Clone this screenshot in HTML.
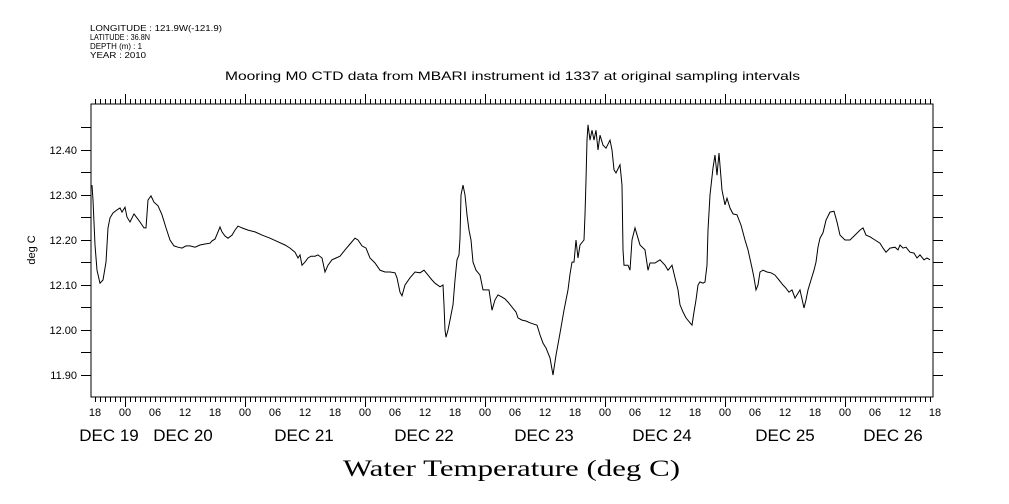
<!DOCTYPE html>
<html><head><meta charset="utf-8"><style>
body{margin:0;background:#fff;}
svg{display:block;font-family:"Liberation Sans",sans-serif;}
</style></head><body>
<svg id="chart" width="1009" height="504" viewBox="0 0 1009 504">
<g font-size="8" fill="#000">
<text x="90" y="31" textLength="132" lengthAdjust="spacingAndGlyphs">LONGITUDE : 121.9W(-121.9)</text>
<text x="90" y="40" textLength="60" lengthAdjust="spacingAndGlyphs">LATITUDE : 36.8N</text>
<text x="90" y="49" textLength="52" lengthAdjust="spacingAndGlyphs">DEPTH (m) : 1</text>
<text x="90" y="58" textLength="56" lengthAdjust="spacingAndGlyphs">YEAR : 2010</text>
</g>
<text x="225" y="80" font-size="12" textLength="575" lengthAdjust="spacingAndGlyphs">Mooring M0 CTD data from MBARI instrument id 1337 at original sampling intervals</text>
<text x="0" y="0" font-size="11" text-anchor="middle" transform="translate(35,250) rotate(-90)">deg C</text>
<text x="343" y="476" font-size="23" font-family="Liberation Serif, serif" textLength="337" lengthAdjust="spacingAndGlyphs">Water Temperature (deg C)</text>
<g id="axes"></g>
<path id="line" fill="none" stroke="#000" stroke-width="1"/>
</svg>
<script>
const hours=[-0.6,-0.4,0,0.4,1,1.6,2.2,2.6,3,3.6,4.4,5,5.4,6,6.4,7,7.8,8.4,9,9.8,10.2,10.6,11.2,11.8,12.6,13.4,14.2,15,15.8,16.6,17.4,18.2,19,20,21,22,23,23.4,24,24.6,25,25.4,26,26.6,27.4,28,28.6,29.4,30.6,32,33.4,35,36.6,38,39,40,40.6,41,41.4,42,42.6,43.2,44,44.6,45.4,46,46.6,47.4,48.2,49,50,51,52,52.6,53.4,54.2,55,56,57,58,59,60,60.4,61,61.4,62,63,64,65,65.8,66.6,67.4,68,69,69.6,69.8,70,70.2,70.6,71,71.6,72,72.4,72.8,73,73.2,73.6,74,74.4,74.8,75.2,75.6,76.2,77,77.6,78.2,78.8,79.4,80,80.6,81.4,82,82.6,83.4,84.2,84.6,85.4,86.2,87,87.8,88.4,89,89.6,90.2,91,91.6,92.2,93,93.8,94.6,95,95.4,95.8,96.2,96.6,97,97.8,98,98.2,98.4,98.6,99,99.4,99.8,100.2,100.6,101,101.6,102.2,103,103.4,103.8,104.2,105,105.4,105.6,105.8,106.2,106.6,107,107.4,108,108.6,109,110,110.6,111,112,113,114,114.6,115.4,116,116.6,117,117.6,118.2,119,119.4,119.8,120.2,120.6,121,121.6,122,122.4,122.6,123,123.6,124,124.4,124.8,125.4,126,126.4,127,127.6,128.4,129.2,130,130.6,131.4,131.8,132.2,132.6,133,133.6,134.4,135.2,136,136.8,137.6,138.2,138.8,139.4,140,141,141.8,142.2,142.6,143.2,143.8,144.2,144.6,145,145.6,146.2,147,147.8,148.4,149,150,151,152,153,153.6,154.2,155,156,157,157.6,158.2,159,160,160.6,161,161.6,162.2,163,163.8,164.4,165,165.8,166.4,167];
const temps=[12.322,12.289,12.189,12.133,12.104,12.111,12.151,12.227,12.249,12.260,12.267,12.271,12.262,12.273,12.251,12.240,12.258,12.249,12.240,12.227,12.227,12.289,12.298,12.284,12.276,12.256,12.227,12.2,12.187,12.184,12.182,12.187,12.187,12.184,12.189,12.191,12.193,12.198,12.202,12.218,12.229,12.218,12.209,12.204,12.211,12.222,12.231,12.227,12.222,12.218,12.211,12.204,12.196,12.189,12.182,12.173,12.160,12.167,12.144,12.151,12.160,12.164,12.164,12.167,12.160,12.129,12.144,12.156,12.160,12.164,12.178,12.191,12.204,12.2,12.187,12.182,12.160,12.149,12.133,12.129,12.129,12.127,12.116,12.084,12.076,12.1,12.116,12.129,12.127,12.133,12.122,12.111,12.104,12.096,12.1,12.056,12.0,11.984,12.0,12.022,12.056,12.111,12.156,12.167,12.204,12.3,12.322,12.3,12.256,12.222,12.2,12.151,12.133,12.122,12.089,12.089,12.089,12.044,12.067,12.078,12.073,12.069,12.062,12.051,12.040,12.027,12.022,12.020,12.016,12.013,12.011,11.989,11.971,11.96,11.938,11.9,11.944,11.993,12.044,12.089,12.124,12.151,12.151,12.2,12.160,12.189,12.2,12.256,12.333,12.422,12.456,12.422,12.444,12.422,12.444,12.4,12.433,12.411,12.404,12.422,12.4,12.356,12.349,12.367,12.322,12.178,12.144,12.144,12.144,12.133,12.2,12.227,12.204,12.189,12.178,12.133,12.149,12.149,12.156,12.144,12.133,12.144,12.116,12.089,12.056,12.040,12.027,12.016,12.011,12.040,12.067,12.1,12.107,12.104,12.107,12.144,12.222,12.3,12.360,12.389,12.344,12.393,12.311,12.278,12.293,12.271,12.258,12.256,12.233,12.2,12.178,12.138,12.116,12.089,12.1,12.129,12.133,12.129,12.127,12.122,12.111,12.1,12.093,12.084,12.089,12.071,12.089,12.049,12.067,12.089,12.111,12.133,12.151,12.184,12.204,12.216,12.244,12.262,12.264,12.240,12.211,12.2,12.2,12.211,12.222,12.227,12.211,12.207,12.2,12.193,12.182,12.173,12.182,12.184,12.178,12.189,12.182,12.184,12.173,12.171,12.160,12.167,12.156,12.160,12.156];
const yTickLabels=["12.40","12.30","12.20","12.10","12.00","11.90"];
const yTickValues=[12.40,12.30,12.20,12.10,12.00,11.90];
const hourLabels=["18","00","06","12","18","00","06","12","18","00","06","12","18","00","06","12","18","00","06","12","18","00","06","12","18","00","06","12","18"];
const dayLabels=["DEC 19","DEC 20","DEC 21","DEC 22","DEC 23","DEC 24","DEC 25","DEC 26"];
const dayLabelHours=[2.8,17.6,41.8,65.8,89.8,113.4,138,159.6];

const L=91,R=933,T=104,B=397;
const xs=t=>95+5*t;
const ys=v=>375-(v-11.9)*450;
const NS="http://www.w3.org/2000/svg";
const axes=document.getElementById('axes');
function mk(tag,attrs,txt){const e=document.createElementNS(NS,tag);for(const k in attrs)e.setAttribute(k,attrs[k]);if(txt!==undefined)e.textContent=txt;axes.appendChild(e);return e;}
let frame=mk('rect',{x:L,y:T,width:R-L,height:B-T,fill:'none',stroke:'#000','stroke-width':1});


let tp='';
for(let v=11.9;v<=12.46;v+=0.05){const y=Math.round(ys(v))+0.5;tp+=`M${L-10},${y}H${L}M${R},${y}H${R+10}`;}
for(let hh=0;hh<=167;hh++){const x=Math.round(xs(hh))+0.5;const major=((hh+18)%24===0);tp+=`M${x},${B}V${B+(major?10:5)}M${x},${T}V${T-(major?10:5)}`;}
let ticks=mk('path',{d:tp,stroke:'#000','stroke-width':1,fill:'none'});


yTickLabels.forEach((s,i)=>{const t=mk('text',{x:77,y:ys(yTickValues[i])+4,'font-size':11,'text-anchor':'end'},s);

});
hourLabels.forEach((s,i)=>{const t=mk('text',{x:xs(i*6),y:416,'font-size':11,'text-anchor':'middle'},s);

});
dayLabels.forEach((s,i)=>{const t=mk('text',{x:xs(dayLabelHours[i]),y:441,'font-size':17,'text-anchor':'middle'},s);

});
let d='';
hours.forEach((h,i)=>{d+=(i?'L':'M')+xs(h).toFixed(1)+','+ys(temps[i]).toFixed(1);});
document.getElementById('line').setAttribute('d',d);
</script>
</body></html>
